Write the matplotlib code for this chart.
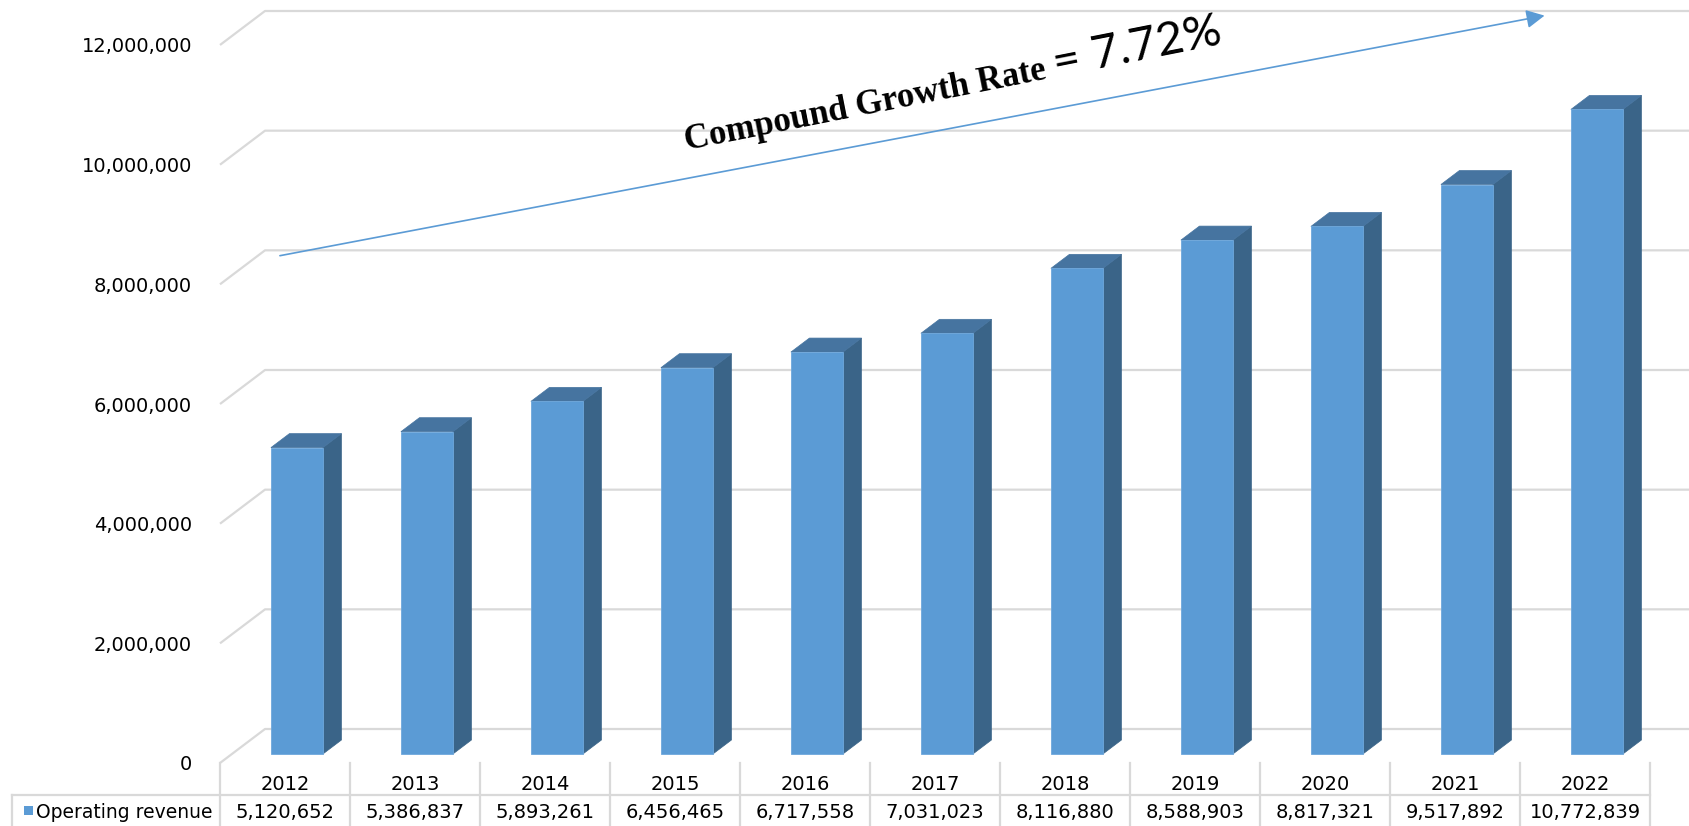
import numpy as np
import matplotlib.pyplot as plt
from matplotlib.patches import Polygon, Rectangle, FancyArrowPatch

years = ['2012', '2013', '2014', '2015', '2016', '2017', '2018', '2019', '2020', '2021', '2022']
revenue = [5120652, 5386837, 5893261, 6456465, 6717558, 7031023, 8116880, 8588903, 8817321, 9517892, 10772839]
series_name = 'Operating revenue'
y_ticks = [0, 2000000, 4000000, 6000000, 8000000, 10000000, 12000000]
growth_label = 'Compound Growth Rate'
growth_value = '= 7.72%'

FRONT = '#5B9BD5'
SIDE = '#3A6488'
TOP = '#4674A0'
GRID = '#D9D9D9'

W, H = 1689, 826
fig = plt.figure(figsize=(W / 100, H / 100), dpi=100)
# front plane of the 3d box: x 220..1650 px, value 0 at y=763 px, 12M at y=45 px
ax = fig.add_axes([220 / W, (H - 763) / H, 1430 / W, 718 / H])
ax.set_xlim(-0.5, 10.5)
ax.set_ylim(0, 12000000)
for s in ax.spines.values():
    s.set_visible(False)

px_x = 1 / 130.0              # data units per pixel (x)
px_y = 12000000 / 718.0       # data units per pixel (y)
DX, DY = 45 * px_x, 34 * px_y  # depth of the box
f0, f1 = 9 / 34, 23 / 34      # depth range of the columns
bw = 52 * px_x

# back wall gridlines
x_right = -0.5 + (W - 220) * px_x
for v in y_ticks:
    ax.plot([-0.5, -0.5 + DX, x_right], [v, v + DY, v + DY], color=GRID, lw=1.6,
            clip_on=False, zorder=1, solid_capstyle='butt')

# columns
for i, v in enumerate(revenue):
    xl = i - bw / 2 + f0 * DX
    xr = i + bw / 2 + f0 * DX
    y0 = f0 * DY
    ddx, ddy = (f1 - f0) * DX, (f1 - f0) * DY
    front = Rectangle((xl, y0), bw, v, facecolor=FRONT, edgecolor='#6FA8DC', lw=0.6,
                      clip_on=False, zorder=3)
    side = Polygon([(xr, y0), (xr + ddx, y0 + ddy), (xr + ddx, v + y0 + ddy), (xr, v + y0)],
                   closed=True, facecolor=SIDE, edgecolor=SIDE, lw=0.5, clip_on=False, zorder=3)
    top = Polygon([(xl, v + y0), (xl + ddx, v + y0 + ddy), (xr + ddx, v + y0 + ddy), (xr, v + y0)],
                  closed=True, facecolor=TOP, edgecolor=TOP, lw=0.5, clip_on=False, zorder=3)
    ax.add_patch(side)
    ax.add_patch(top)
    ax.add_patch(front)

# y axis labels
ax.set_yticks(y_ticks)
ax.set_yticklabels([f'{v:,}' for v in y_ticks], fontsize=14, color='black')
ax.tick_params(axis='y', length=0, pad=20)
ax.set_xticks([])

# data table
y_year = -(785 - 763) * px_y
y_row = -(795 - 763) * px_y
y_val = -(813 - 763) * px_y
y_bot = -(H - 763) * px_y
x_left = -0.5 - 208 * px_x
for k in range(len(years) + 1):
    ax.plot([k - 0.5, k - 0.5], [0, y_bot], color=GRID, lw=1.6, clip_on=False, zorder=1)
ax.plot([x_left, len(years) - 0.5], [y_row, y_row], color=GRID, lw=1.6, clip_on=False, zorder=1)
ax.plot([x_left, x_left], [y_row, y_bot], color=GRID, lw=1.6, clip_on=False, zorder=1)
for i, (yr, v) in enumerate(zip(years, revenue)):
    ax.text(i, y_year, yr, ha='center', va='center', fontsize=14, clip_on=False)
    ax.text(i, y_val, f'{v:,}', ha='center', va='center', fontsize=14, clip_on=False)
ax.add_patch(Rectangle((x_left + 12 * px_x, y_val - 2 * px_y), 9 * px_x, 9 * px_y,
                       facecolor=FRONT, edgecolor='none', clip_on=False))
ax.text(x_left + 24 * px_x, y_val, series_name, ha='left', va='center', fontsize=13.5,
        clip_on=False)

# growth arrow
arrow = FancyArrowPatch((-0.06, 8470000), (9.71, 12500000),
                        arrowstyle='-|>,head_length=0.55,head_width=0.28', mutation_scale=20,
                        color=FRONT, lw=1.2, clip_on=False, zorder=4)
ax.add_patch(arrow)

angle = 11.2
t1 = ax.text(3.09, 10250000, growth_label, fontsize=25, fontweight='bold',
             family='Liberation Serif', ha='left', va='baseline', rotation=0,
             rotation_mode='anchor', clip_on=False, zorder=5)
renderer = fig.canvas.get_renderer()
w1 = t1.get_window_extent(renderer).width
t1.set_rotation(angle)
x0, y0 = ax.transData.transform((3.09, 10250000))
gap = w1 + 8
x2, y2 = ax.transData.inverted().transform((x0 + gap * np.cos(np.radians(angle)),
                                            y0 + gap * np.sin(np.radians(angle))))
ax.text(x2, y2, growth_value, fontsize=34, family='Lato', ha='left', va='baseline',
        rotation=angle, rotation_mode='anchor', clip_on=False, zorder=5)

fig.savefig('out.png', dpi=100)
